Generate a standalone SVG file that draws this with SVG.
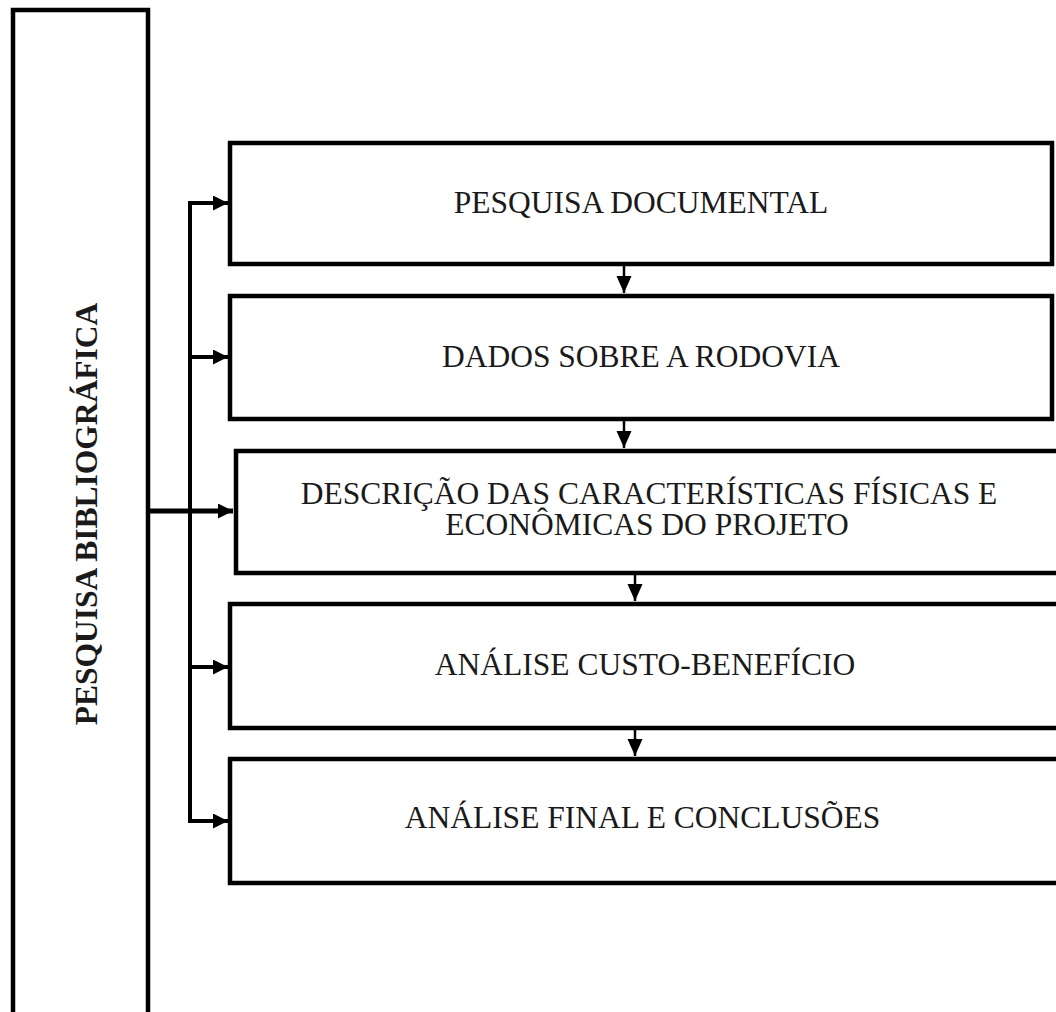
<svg xmlns="http://www.w3.org/2000/svg" width="1056" height="1012" viewBox="0 0 1056 1012">
<defs>
<style>
.box{fill:#fff;stroke:#000;stroke-width:4.5}
.lbl{font-family:"Liberation Serif","Times New Roman",serif;font-size:31.5px;fill:#1a1a1a;text-anchor:middle}
.side{fill:#1a1a1a;font-weight:bold;font-size:31.5px;font-family:"Liberation Serif","Times New Roman",serif;text-anchor:middle}
.wire{fill:none;stroke:#000;stroke-width:4}
.down{fill:none;stroke:#000;stroke-width:2.5}
</style>
<marker id="ah" markerUnits="userSpaceOnUse" markerWidth="16" markerHeight="16" refX="15" refY="7.5" orient="auto" viewBox="0 0 16 16">
<path d="M0,0 L15,7.5 L0,15 z" fill="#000"/>
</marker>
<marker id="ad" markerUnits="userSpaceOnUse" markerWidth="18" markerHeight="18" refX="17" refY="7.5" orient="auto" viewBox="0 0 18 18">
<path d="M0,0 L17,7.5 L0,15 z" fill="#000"/>
</marker>
</defs>
<rect width="1056" height="1012" fill="#fff"/>

<g id="n-bib">
<rect class="box" x="13" y="10" width="135" height="1012"/>
<text class="side" transform="translate(97,514) rotate(-90)">PESQUISA BIBLIOGRÁFICA</text>
</g>

<g id="n1">
<rect class="box" x="230" y="143" width="822" height="121"/>
<text class="lbl" x="641" y="213">PESQUISA DOCUMENTAL</text>
</g>
<g id="n2">
<rect class="box" x="230" y="296" width="822" height="123"/>
<text class="lbl" x="641" y="367">DADOS SOBRE A RODOVIA</text>
</g>
<g id="n3">
<rect class="box" x="236" y="451" width="840" height="122"/>
<text class="lbl"><tspan x="649" y="504">DESCRIÇÃO DAS CARACTERÍSTICAS FÍSICAS E</tspan><tspan x="647" y="535">ECONÔMICAS DO PROJETO</tspan></text>
</g>
<g id="n4">
<rect class="box" x="230" y="604" width="846" height="124"/>
<text class="lbl" x="645" y="675">ANÁLISE CUSTO-BENEFÍCIO</text>
</g>
<g id="n5">
<rect class="box" x="230" y="759" width="846" height="124"/>
<text class="lbl" x="642.5" y="828">ANÁLISE FINAL E CONCLUSÕES</text>
</g>

<g id="connectors">
<path class="wire" style="stroke-width:5" d="M150,511 H233" marker-end="url(#ah)"/>
<path class="wire" d="M190,201 V823"/>
<path class="wire" d="M188,203 H228" marker-end="url(#ah)"/>
<path class="wire" d="M188,357 H228" marker-end="url(#ah)"/>
<path class="wire" d="M188,667 H228" marker-end="url(#ah)"/>
<path class="wire" d="M188,821 H228" marker-end="url(#ah)"/>
<path class="down" d="M624,266 V293" marker-end="url(#ad)"/>
<path class="down" d="M624,421 V448" marker-end="url(#ad)"/>
<path class="down" d="M635,575 V601" marker-end="url(#ad)"/>
<path class="down" d="M635,730 V756" marker-end="url(#ad)"/>
</g>
</svg>
